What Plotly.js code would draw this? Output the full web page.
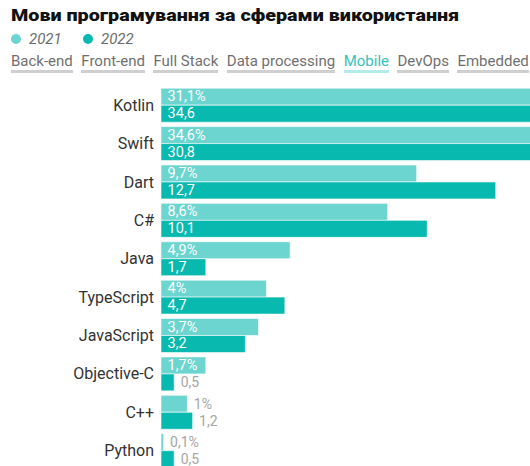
<!DOCTYPE html>
<html><head><meta charset="utf-8">
<script src="https://cdn.plot.ly/plotly-3.0.1.min.js"></script>
<style>
html,body{margin:0;padding:0;width:530px;height:466px;overflow:hidden;background:#fff;font-family:Roboto,sans-serif;}
#chart{position:absolute;left:0;top:0;width:530px;height:466px;}
#head{position:absolute;left:0;top:0;width:530px;z-index:5;}
#title{position:absolute;left:11px;top:6px;font-weight:900;font-size:16px;color:#111;white-space:nowrap;transform-origin:0 50%;}
.leg{position:absolute;top:31px;font-size:15px;font-style:italic;color:#6b6b6b;line-height:17px;}
.dot{display:inline-block;width:10px;height:10px;border-radius:50%;margin-right:8px;vertical-align:0px;}
#tabs{position:absolute;left:11px;top:53px;display:flex;gap:8.5px;white-space:nowrap;}
.tab{font-size:15px;color:#707070;line-height:17px;border-bottom:3px solid #cfcfcf;padding-bottom:0px;}
.tab.on{color:#36c2ba;border-bottom-color:#b3ece8;}
</style></head>
<body>
<div id="chart"></div>
<div id="head">
  <div id="title"></div>
  <div id="legend"></div>
  <div id="tabs"></div>
</div>
<script>
const titleText = "Мови програмування за сферами використання";
const tabs = ["Back-end","Front-end","Full Stack","Data processing","Mobile","DevOps","Embedded"];
const activeTab = "Mobile";
const categories = ["Kotlin","Swift","Dart","C#","Java","TypeScript","JavaScript","Objective-C","C++","Python"];
const years = ["2021","2022"];
const values2021 = [31.1,34.6,9.7,8.6,4.9,4.0,3.7,1.7,1.0,0.1];
const values2022 = [34.6,30.8,12.7,10.1,1.7,4.7,3.2,0.5,1.2,0.5];
const colors = ["#6dd5cf","#07b9ae"];

const tEl = document.getElementById('title');
tEl.textContent = titleText;
const tw = tEl.offsetWidth;
if (tw > 0) tEl.style.transform = 'scaleX(' + (448/tw).toFixed(4) + ')';

const leg = document.getElementById('legend');
const legX = [11, 83];
years.forEach((y,i)=>{
  const d = document.createElement('div');
  d.className='leg'; d.style.left = legX[i]+'px';
  d.innerHTML = '<span class="dot" style="background:'+colors[i]+'"></span>'+y;
  leg.appendChild(d);
});
const tb = document.getElementById('tabs');
tabs.forEach(t=>{
  const s = document.createElement('span');
  s.className = 'tab' + (t===activeTab?' on':'');
  s.textContent = t; tb.appendChild(s);
});

const fmt = (v,pct)=> '\u00a0' + String(v).replace('.',',') + (pct?'%':'');
function trace(vals, i, pct){
  return {
    type:'bar', orientation:'h', y:categories, x:vals, name:years[i],
    marker:{color:colors[i], line:{color:'rgba(255,255,255,0.6)', width:1}},
    text: vals.map(v=>fmt(v,pct)),
    textposition: vals.map(v=> v>=1.5 ? 'inside':'outside'),
    insidetextanchor:'start',
    textangle:0,
    constraintext:'none',
    cliponaxis:true,
    insidetextfont:{family:'Roboto', size:14.5, color:'#ffffff'},
    outsidetextfont:{family:'Roboto', size:14, color:'#a6a6a6'},
    hoverinfo:'skip'
  };
}
const data = [trace(values2021,0,true), trace(values2022,1,false)];
const layout = {
  width:530, height:466,
  margin:{l:161, r:0, t:86, b:0, pad:0},
  barmode:'group', bargap:0.115, bargroupgap:0,
  showlegend:false,
  paper_bgcolor:'#fff', plot_bgcolor:'#fff',
  font:{family:'Roboto', size:14, color:'#333'},
  xaxis:{range:[0,14], visible:false, fixedrange:true},
  yaxis:{range:[9.40,-0.5], showgrid:false, zeroline:false, showline:false, ticks:'', ticklabelstandoff:6,
         tickfont:{family:'Roboto', size:16, color:'#333'}, fixedrange:true}
};
Plotly.newPlot('chart', data, layout, {displayModeBar:false, staticPlot:true});
</script>
</body></html>
